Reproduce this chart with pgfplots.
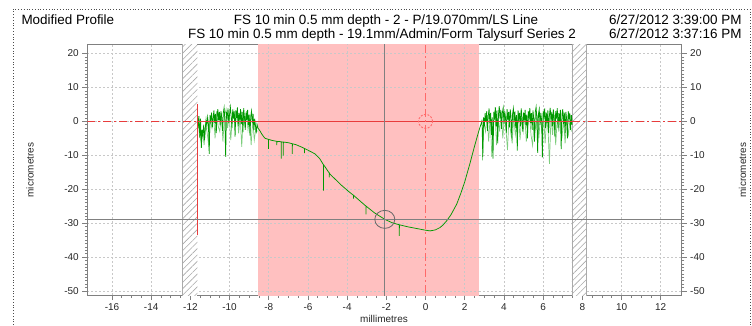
\documentclass[border=0pt]{standalone}
\usepackage{pgfplots}
\pgfplotsset{compat=1.18}
\usepackage{fontspec}
\setmainfont{Liberation Sans}
\usetikzlibrary{patterns,patterns.meta}
\definecolor{pinkbg}{RGB}{255,192,192}
\definecolor{dkgreen}{RGB}{0,153,0}
\definecolor{ltgreen}{RGB}{125,205,125}
\definecolor{redline}{RGB}{232,60,60}
\definecolor{redlight}{RGB}{255,105,105}
\definecolor{gridc}{RGB}{200,200,200}
\definecolor{axc}{RGB}{128,128,128}
\definecolor{hatchc}{RGB}{170,170,170}
\begin{document}
\begin{tikzpicture}[x=1bp,y=1bp]
\useasboundingbox (0,0) rectangle (752,325);
\pgfplotsset{
  common/.style={
    at={(87.3bp,30bp)}, anchor=south west,
    scale only axis, width=594.4bp, height=250.3bp,
    xmin=-17.26, xmax=13.07, ymin=-51.2, ymax=22.6,
    xtick={-16,-14,...,12}, ytick={-50,-40,...,20},
    minor x tick num=3, minor y tick num=9,
    tick align=outside,
    major tick length=5bp, minor tick length=2.5bp,
    axis line style={axc, line width=0.8bp},
    tick style={axc, line width=0.6bp},
    ticklabel style={font=\fontsize{10}{12}\selectfont, text=black!85},
    /pgf/number format/assume math mode=true,
  },
  gl/.style={gridc, dash pattern=on 2bp off 2bp, line width=0.6bp}
}
\begin{axis}[common,
  xtick pos=bottom, ytick pos=both,
  grid=major, major grid style={gl}]
% pink region
\addplot[draw=none, fill=pinkbg] coordinates {(-8.53,-60) (2.73,-60) (2.73,30) (-8.53,30)};
% grid lines over the pink region
\addplot[gl] coordinates {(-8,-60) (-8,30)};
\addplot[gl] coordinates {(-6,-60) (-6,30)};
\addplot[gl] coordinates {(-4,-60) (-4,30)};
\addplot[gl] coordinates {(2,-60) (2,30)};
\addplot[gl] coordinates {(-8.53,20) (2.73,20)};
\addplot[gl] coordinates {(-8.53,10) (2.73,10)};
\addplot[gl] coordinates {(-8.53,-10) (2.73,-10)};
\addplot[gl] coordinates {(-8.53,-20) (2.73,-20)};
\addplot[gl] coordinates {(-8.53,-30) (2.73,-30)};
\addplot[gl] coordinates {(-8.53,-40) (2.73,-40)};
\addplot[gl] coordinates {(-8.53,-50) (2.73,-50)};
% hatched regions
\addplot[draw=none, fill=white] coordinates {(-12.42,-60) (-11.64,-60) (-11.64,30) (-12.42,30)};
\addplot[draw=none, fill=white] coordinates {(7.46,-60) (8.20,-60) (8.20,30) (7.46,30)};
\addplot[draw=none, pattern={Lines[angle=45, distance=4.5bp, line width=0.6bp]}, pattern color=hatchc] coordinates {(-12.42,-60) (-11.64,-60) (-11.64,30) (-12.42,30)};
\addplot[draw=none, pattern={Lines[angle=45, distance=4.5bp, line width=0.6bp]}, pattern color=hatchc] coordinates {(7.46,-60) (8.20,-60) (8.20,30) (7.46,30)};
\addplot[hatchc, line width=0.5bp] coordinates {(-12.42,-60) (-12.42,30)};
\addplot[hatchc, line width=0.5bp] coordinates {(7.46,-60) (7.46,30)};
\addplot[hatchc, line width=0.5bp] coordinates {(8.20,-60) (8.20,30)};
% light green (raw)
\addplot[ltgreen, line width=0.7bp] table {
x y
-11.62 1.0
-11.54 -4.0
-11.46 -6.0
-11.38 -3.0
-11.30 -7.0
-11.22 -1.0
-11.14 -3.5
-11.06 -7.5
-10.98 0.5
-10.90 -2.0
-10.82 2.0
-10.74 -5.0
-10.66 3.0
-10.58 -1.5
-10.50 -3.0
-10.42 2.5
-10.34 -6.0
-10.26 1.5
-10.18 3.5
-10.10 -2.0
-10.02 2.0
-9.94 -5.5
-9.86 1.0
-9.78 3.0
-9.70 -1.0
-9.62 2.5
-9.54 -3.5
-9.46 1.5
-9.38 -7.5
-9.30 2.0
-9.22 -1.0
-9.14 3.0
-9.06 -2.5
-8.98 1.0
-8.90 -7.0
-8.82 0.5
-8.74 -5.5
-8.66 -2.0
-8.58 -3.0
};
\addplot[ltgreen, line width=0.7bp] table {
x y
2.90 -11.5
2.98 0.0
3.06 -3.0
3.14 1.5
3.22 -6.0
3.30 2.0
3.38 -10.5
3.46 -2.0
3.54 3.0
3.62 -7.0
3.70 1.0
3.78 -3.0
3.86 2.5
3.94 -5.0
4.02 1.5
4.10 -2.0
4.18 -8.5
4.26 2.0
4.34 -3.0
4.42 -6.5
4.50 1.5
4.58 -4.0
4.66 -1.0
4.74 2.5
4.82 -5.5
4.90 1.0
4.98 -3.0
5.06 2.0
5.14 -6.0
5.22 -1.5
5.30 2.5
5.38 -4.0
5.46 -7.0
5.54 1.0
5.62 -2.5
5.70 2.0
5.78 -5.0
5.86 1.5
5.94 -3.0
6.02 2.5
6.10 -6.5
6.18 1.0
6.26 -3.5
6.32 -12.5
6.40 1.5
6.48 -4.0
6.56 2.0
6.64 -7.0
6.72 1.0
6.80 -3.0
6.88 2.5
6.96 -5.0
7.04 0.5
7.12 -6.5
7.20 1.5
7.28 -4.5
7.36 0.0
7.44 -3.0
};
% dark green profile
\addplot[dkgreen, line width=0.75bp] table {
x y
-11.64 2.6
-11.60 -2.0
-11.56 1.5
-11.52 -4.8
-11.48 0.8
-11.44 -7.8
-11.40 -2.5
-11.36 -4.2
-11.32 -1.0
-11.28 -5.5
-11.24 -2.0
-11.20 0.5
-11.16 -1.5
-11.12 1.2
-11.08 -0.8
-11.04 -9.6
-11.00 1.8
-10.96 0.2
-10.92 2.6
-10.88 -1.8
-10.84 1.0
-10.80 3.2
-10.76 -0.5
-10.72 2.2
-10.68 -3.5
-10.64 1.5
-10.60 3.6
-10.56 0.3
-10.52 2.8
-10.48 -1.2
-10.44 3.0
-10.40 1.0
-10.36 -2.8
-10.32 2.5
-10.28 4.0
-10.24 0.5
-10.20 -10.5
-10.16 2.8
-10.12 1.2
-10.08 3.8
-10.04 -0.5
-10.00 2.2
-9.96 4.2
-9.92 1.5
-9.88 -2.0
-9.84 3.5
-9.80 0.8
-9.76 2.9
-9.72 -4.5
-9.68 3.2
-9.64 1.0
-9.60 4.1
-9.56 -1.5
-9.52 2.4
-9.48 0.2
-9.44 3.6
-9.40 -0.8
-9.36 2.8
-9.32 -3.2
-9.28 3.9
-9.24 1.2
-9.20 -2.5
-9.16 2.6
-9.12 0.4
-9.08 3.4
-9.04 -1.0
-9.00 2.0
-8.96 -4.2
-8.92 1.5
-8.88 3.0
-8.84 -0.5
-8.80 2.2
-8.76 -2.5
-8.72 0.8
-8.68 -1.2
-8.64 -3.5
-8.60 -0.8
-8.56 -1.8
-8.55 -2.0
-8.45 -2.8
-8.35 -3.8
-8.25 -4.6
-8.19 -5.0
-8.02 -5.3
-8.02 -8.1
-8.015 -5.3
-7.85 -5.6
-7.68 -5.8
-7.59 -5.9
-7.59 -7.0
-7.585 -5.9
-7.37 -6.0
-7.37 -11.0
-7.365 -6.05
-7.26 -6.1
-7.26 -10.1
-7.255 -6.1
-7.00 -6.3
-6.80 -6.6
-6.80 -9.6
-6.795 -6.6
-6.60 -6.9
-6.32 -7.6
-6.18 -8.0
-6.18 -9.4
-6.175 -8.0
-6.00 -8.5
-5.80 -9.1
-5.64 -9.6
-5.40 -11.0
-5.21 -12.8
-5.21 -20.4
-5.205 -12.8
-5.13 -13.4
-4.92 -15.2
-4.92 -16.5
-4.915 -15.2
-4.87 -15.6
-4.62 -17.0
-4.30 -18.8
-3.94 -20.6
-3.68 -21.8
-3.68 -22.8
-3.675 -21.8
-3.30 -23.7
-3.04 -25.0
-3.04 -27.4
-3.035 -25.0
-2.60 -27.0
-2.08 -28.9
-1.70 -29.9
-1.34 -30.5
-1.34 -33.8
-1.335 -30.5
-0.90 -31.1
-0.45 -31.6
0.00 -32.1
0.23 -32.3
0.50 -32.0
0.74 -31.3
0.90 -30.5
1.08 -29.3
1.30 -27.5
1.59 -24.4
1.80 -21.2
2.00 -17.8
2.27 -12.3
2.50 -7.3
2.70 -3.2
2.87 0.0
2.88 0.5
2.92 -10.5
2.96 1.2
3.00 -1.5
3.04 2.4
3.08 0.0
3.12 3.0
3.16 -2.8
3.20 1.6
3.24 3.8
3.28 -0.5
3.32 2.5
3.36 -4.0
3.40 1.2
3.44 -11.0
3.48 2.8
3.52 0.6
3.56 4.2
3.60 -1.5
3.64 3.2
3.68 -6.5
3.72 2.0
3.76 4.5
3.80 0.8
3.84 3.4
3.88 -2.2
3.92 2.6
3.96 4.0
4.00 -0.8
4.04 3.0
4.08 1.0
4.12 -3.5
4.16 3.6
4.20 0.5
4.24 2.8
4.28 -1.8
4.32 3.5
4.36 1.5
4.40 -4.8
4.44 2.2
4.48 3.8
4.52 0.2
4.56 2.9
4.60 -2.0
4.64 1.8
4.68 -8.6
4.72 3.2
4.76 0.6
4.80 2.5
4.84 -1.5
4.88 3.8
4.92 1.0
4.96 -3.0
5.00 2.6
5.04 0.4
5.08 3.4
5.12 -1.2
5.16 2.0
5.20 -5.0
5.24 3.0
5.28 1.2
5.32 3.9
5.36 -0.5
5.40 2.4
5.44 -2.5
5.48 3.2
5.52 0.8
5.56 -6.0
5.60 2.8
5.64 4.2
5.68 0.5
5.72 -9.3
5.76 2.2
5.80 3.6
5.84 -1.0
5.88 2.5
5.92 0.4
5.96 -10.6
6.00 3.0
6.04 1.5
6.08 3.8
6.12 -2.0
6.16 2.6
6.20 -0.5
6.24 3.2
6.28 -3.5
6.32 1.8
6.36 4.0
6.40 0.2
6.44 2.8
6.48 -1.5
6.52 3.5
6.56 1.0
6.60 -4.5
6.64 3.0
6.68 0.8
6.72 3.9
6.76 -2.0
6.80 2.4
6.84 0.0
6.88 3.4
6.92 -8.2
6.96 2.0
7.00 3.6
7.04 -0.8
7.08 2.6
7.12 -3.5
7.16 2.8
7.20 0.5
7.24 -5.0
7.28 3.0
7.32 1.0
7.36 2.5
7.40 -2.5
7.44 1.8
7.48 -1.0
};
% reference lines
\addplot[redline, line width=0.8bp, dash pattern=on 8bp off 3bp on 2bp off 3bp] coordinates {(-17.26,0) (-11.64,0)};
\addplot[redline, line width=0.8bp] coordinates {(-11.64,0) (7.48,0)};
\addplot[redline, line width=0.8bp, dash pattern=on 8bp off 3bp on 2bp off 3bp] coordinates {(7.48,0) (13.07,0)};
\addplot[redline, line width=0.8bp] coordinates {(-11.64,5) (-11.64,-33.5)};
\addplot[redlight, line width=1.3bp, dash pattern=on 8bp off 3bp on 2bp off 3bp] coordinates {(0,-60) (0,30)};
\addplot[axc, line width=0.9bp] coordinates {(-2.08,-60) (-2.08,30)};
\addplot[axc, line width=0.9bp] coordinates {(-20,-28.9) (20,-28.9)};
\draw[axc!80!black, line width=0.8bp] (axis cs:-2.08,-28.9) ellipse [x radius=10bp, y radius=9bp];
\draw[redlight, line width=0.9bp, dash pattern=on 2bp off 1.5bp] (axis cs:0,0) circle [radius=7bp];
\end{axis}
\begin{axis}[common, hide x axis, axis y line*=right]
\addplot[draw=none] coordinates {(0,0)};
\end{axis}
% axis labels
\node[rotate=90, font=\fontsize{10}{12}\selectfont, text=black!85] at (30,155) {micrometres};
\node[rotate=90, font=\fontsize{10}{12}\selectfont, text=black!85] at (742.5,155) {micrometres};
\node[font=\fontsize{10}{12}\selectfont, text=black!85] at (384,6) {millimetres};
% header
\draw[black!70, line width=0.8bp, dotted] (13,0) -- (13,316) -- (750,316) -- (750,0);
\node[anchor=base west, font=\fontsize{13.5}{16}\selectfont] at (18,301) {Modified Profile};
\node[anchor=base, font=\fontsize{13.5}{16}\selectfont] at (386,301) {FS 10 min 0.5 mm depth - 2 - P/19.070mm/LS Line};
\node[anchor=base, font=\fontsize{13.5}{16}\selectfont] at (382,287) {FS 10 min 0.5 mm depth - 19.1mm/Admin/Form Talysurf Series 2};
\node[anchor=base east, font=\fontsize{13.5}{16}\selectfont] at (745,301) {6/27/2012 3:39:00 PM};
\node[anchor=base east, font=\fontsize{13.5}{16}\selectfont] at (745,287) {6/27/2012 3:37:16 PM};
\end{tikzpicture}
\end{document}
